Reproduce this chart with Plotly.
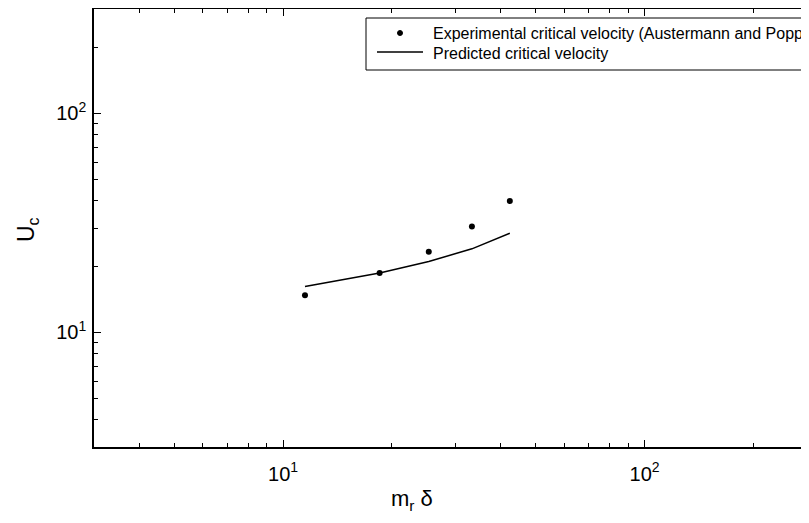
import numpy as np
import plotly.graph_objects as go

# ---- data ----
mr_delta = [11.5, 18.5, 25.3, 33.3, 42.4]
uc_experimental = [14.8, 18.7, 23.4, 30.5, 39.8]
uc_predicted = [16.2, 18.7, 21.1, 24.1, 28.4]
series_names = ["Experimental critical velocity (Austermann and Popp)",
                "Predicted critical velocity"]
major_ticks = [10, 100]
major_labels = ["10<sup>1</sup>", "10<sup>2</sup>"]
x_minor = [4, 5, 6, 7, 8, 9, 20, 30, 40, 50, 60, 70, 80, 90, 200]
y_minor = [4, 5, 6, 7, 8, 9, 20, 30, 40, 50, 60, 70, 80, 90, 200]
x_limits = [3, 285]
y_limits = [3, 300]

# figure sized to fit the 809x523 window inside the page's 8px body margin
W, H = 801, 507
L, R, T, B = 86, 0, 1, 68
OFF = 8  # page body margin: screen = figure + 8
FONT = "Liberation Sans, Arial, sans-serif"


def px_x(p):
    return (p - OFF - L) / (W - L - R)


def px_y(p):
    return (H - B - (p - OFF)) / (H - T - B)


fig = go.Figure()
fig.add_trace(go.Scatter(x=mr_delta, y=uc_predicted, mode="lines",
                         line=dict(color="black", width=1.5),
                         name=series_names[1], showlegend=False))
fig.add_trace(go.Scatter(x=mr_delta, y=uc_experimental, mode="markers",
                         marker=dict(color="black", size=6),
                         name=series_names[0], showlegend=False))

axis_common = dict(
    type="log", showgrid=False, zeroline=False,
    showline=True, linecolor="black", linewidth=1.5,
    ticks="inside", ticklen=7, tickwidth=1, tickcolor="black",
    tickvals=major_ticks, ticktext=major_labels,
    tickfont=dict(family=FONT, size=20, color="black"),
)

fig.update_xaxes(**axis_common, range=[np.log10(x_limits[0]), np.log10(x_limits[1])],
                 mirror="ticks", ticklabelstandoff=8,
                 minor=dict(tickvals=x_minor, ticks="inside", ticklen=4,
                            tickwidth=1, tickcolor="black", showgrid=False))
fig.update_yaxes(**axis_common, range=[np.log10(y_limits[0]), np.log10(y_limits[1])],
                 mirror=False, ticklabelstandoff=2,
                 minor=dict(tickvals=y_minor, ticks="inside", ticklen=4,
                            tickwidth=1, tickcolor="black", showgrid=False))

# ---- legend box (cropped at the right edge, as in the reference) ----
fig.add_shape(type="rect", xref="paper", yref="paper",
              x0=px_x(366), x1=px_x(840), y0=px_y(70), y1=px_y(18),
              line=dict(color="black", width=1), fillcolor="white", layer="above")
fig.add_shape(type="circle", xref="paper", yref="paper",
              x0=px_x(397.5), x1=px_x(402.5), y0=px_y(35.5), y1=px_y(30.5),
              line=dict(color="black", width=1), fillcolor="black", layer="above")
fig.add_shape(type="line", xref="paper", yref="paper",
              x0=px_x(377), x1=px_x(423), y0=px_y(52), y1=px_y(52),
              line=dict(color="black", width=1.5), layer="above")
for name, yy in zip(series_names, [33, 53]):
    fig.add_annotation(x=px_x(431), y=px_y(yy), xref="paper", yref="paper",
                       text=name, showarrow=False, xanchor="left", yanchor="middle",
                       font=dict(family=FONT, size=16, color="black"))

# ---- axis titles ----
fig.add_annotation(x=px_x(412), y=px_y(500), xref="paper", yref="paper",
                   text="m<sub>r</sub> δ", showarrow=False,
                   xanchor="center", yanchor="middle",
                   font=dict(family=FONT, size=22, color="black"))
fig.add_annotation(x=px_x(28), y=px_y(230), xref="paper", yref="paper",
                   text="U<sub>c</sub>", showarrow=False, textangle=-90,
                   xanchor="center", yanchor="middle",
                   font=dict(family=FONT, size=23, color="black"))

fig.update_layout(width=W, height=H,
                  margin=dict(l=L, r=R, t=T, b=B, pad=0),
                  paper_bgcolor="white", plot_bgcolor="white",
                  showlegend=False)

fig.write_html("out.html", post_script="document.body.style.overflow='hidden';")
